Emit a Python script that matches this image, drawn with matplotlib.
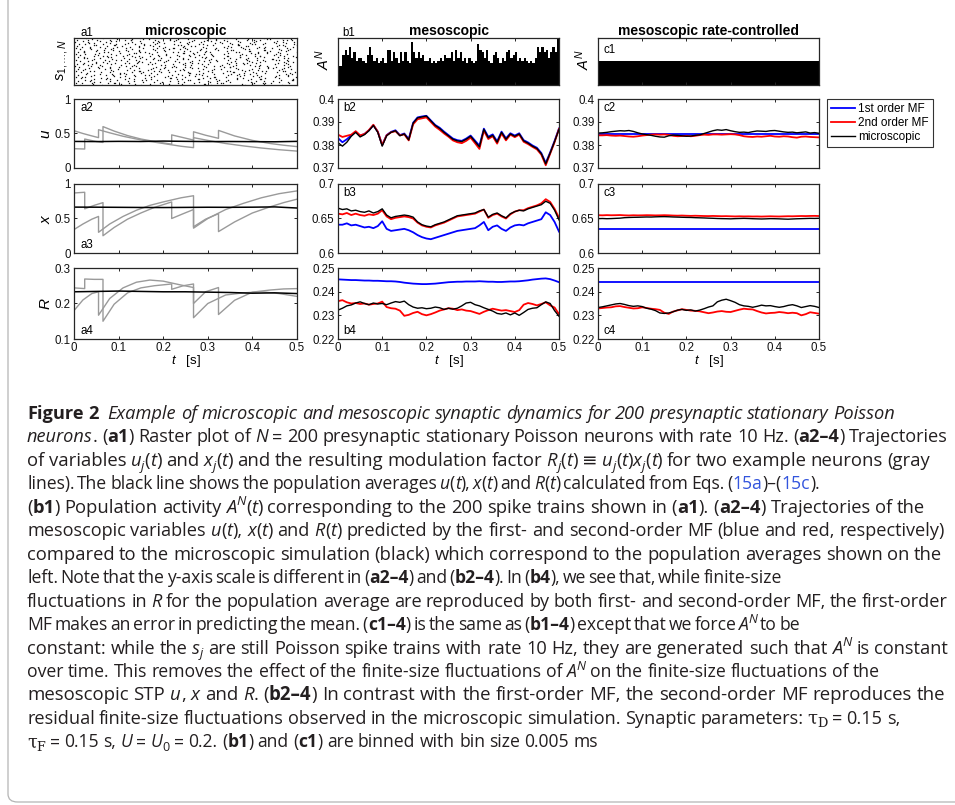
import re
import numpy as np
import matplotlib
matplotlib.use("Agg")
import matplotlib.pyplot as plt
from matplotlib.font_manager import FontProperties
from matplotlib.patches import FancyBboxPatch

plt.rcParams["mathtext.fontset"] = "custom"
plt.rcParams["mathtext.rm"] = "Liberation Sans"
plt.rcParams["mathtext.it"] = "Liberation Sans:italic"
plt.rcParams["mathtext.bf"] = "Liberation Sans:bold"
plt.rcParams["font.family"] = ["Liberation Sans", "DejaVu Sans"]

# ---------------- DATA ----------------
t_ticks = [0, 0.1, 0.2, 0.3, 0.4, 0.5]
t_ticklabels = ["0", "0.1", "0.2", "0.3", "0.4", "0.5"]

# raster: one row per 5 neurons, one column per 1/90 of the 0.5 s window.
# a digit marks a spike; it gives the tenth of the column and the neuron in the row
raster_rows = [
    "..3....7.. .1......9. ....5..0.. 8.......2. ...6...... ..4..3.... .......7.1 .9....5... ....0.....",
    "8......2.. ...6..4... ..3....... ....7...1. .9......5. ...0...8.. 2......... ..6...4..3 ......7...",
    "...1...9.. 5.....0... .......8.. ..2..6.... ....4..... 3...7....1 ..9....... .5.....0.. ..8...2...",
    ".6....4... ....3..... .7..1...9. ........5. ..0...8... ....2..6.. .4........ ...3..7... 1......9..",
    "....5..0.. ..8....2.. 6......4.. ...3...... .7....1..9 ........5. ..0..8.... 2....6.... ...4....3.",
    "..7.....1. 9...5..... ....0...8. .2......6. ...4...... 3...7..1.. .....9.... .5...0.... ..8.....2.",
    "6...4..... ...3....7. ..1....... 9.....5..0 ....8..... ..2...6... .4......3. ....7..1.. 9........5",
    "...0..8... ......2... 6...4..... ..3....7.. .1......9. ...5...0.. ......8... ..2..6.... .4....3...",
    ".7......1. ..9..5.... ....0...8. 2........6 ...4..3... .7........ ..1..9..5. ....0..... ..8...2...",
    "....6..... 4....3..7. .1....9... ...5...... ..0...8..2 6.....4... ...3..7... .1....9... .....5..0.",
    "..8..2.... ....6...4. 3......7.. .1..9..... ......5... ..0..8.... 2...6...4. ...3...... .7.....1..",
    "9.....5... .0...8.... ...2..6... ....4...3. 7.....1... ...9...... .5..0...8. ..2....6.. ....4....3",
    "...7....1. ....9..... .5....0..8 ..2....... ..6.4..... 3....7.... ...1...9.. 5.....0... ..8..2....",
    ".6..4..... ..3....7.. ....1..... 9...5...0. ...8...... ..2...6..4 ......3... .7..1..... ...9...5..",
    "......0..8 2...6..... ..4...3... .7....1... ....9..5.. 0......... ..8..2.... ....6...4. 3...7.....",
    "..1...9... ....5...0. 8......... ...2..6..4 .3....7... ...1....9. 5..0...... ..8.....2. .6....4...",
    "3....7.... .1......9. ...5.0.... ......8... 2...6..... ..4...3..7 ....1..... 9...5...0. ....8..2..",
    "...6...4.. 3...7..... ....1....9 .5...0.... ...8...2.. .6........ ..4..3..7. .....1.... 9.....5...",
    ".0......8. ...2..6... 4....3.... ..7....... 1...9..5.. ....0..... .8...2...6 ...4...... ..3..7....",
    "....1...9. .5........ ..0..8.2.. 6.....4... ..3...7... 1...9..... ...5....0. .8...2.... ....6...4.",
    "..3..7.... ....1...9. .5....0... ...8...2.. 6......4.. ..3....7.. .....1...9 5......0.. ..8...2...",
    "6......4.. ..3...7... .....1.... .9..5...0. ...8...... 2...6..4.. ..3....... ...7..1..9 .5....0...",
    "...8....2. 6....4.... ..3...7..1 ....9..... .5....0... ..8..2.... 6....4...3 ...7...... 1...9.....",
    ".5...0.... ...8...... 2...6..4.. ..3.....7. ....1...9. .5........ ...0..8... 2.....6... ..4...3..7",
    "....1..9.. .5...0...8 ...2...... 6...4..... ..3...7... ...1.9.... .5.....0.. ..8..2.... ....6...4.",
    "..3......7 ...1..9... .5....0... ...8...2.. .6....4... 3....7.... ..1...9..5 .....0.... 8..2......",
    "6...4...3. ....7..... ..1.9..... .5.....0.. ...8....2. ..6..4.... 3......7.. ...1...9.. .5....0...",
    "...8...... 2..6....4. ....3...7. 1......... .9..5...0. ....8..... ..2...6... .4..3..7.. ...1.....9",
    ".5..0...8. ..2....... .6....4... ...3..7... 1.....9..5 ...0...... .8...2.... 6...4..... ..3..7....",
    "....1..... .9...5..0. 8.....2... ..6...4... ....3..... 7..1...9.. ...5...... .0....8..2 ...6..4...",
    "..3...7..1 ....9..... ...5..0... .8......2. ..6..4.... .3....7... ....1...9. 5......0.. ..8....2..",
    "6.....4... ..3..7.... .1.....9.. ...5..0..8 2...6..... ...4...3.. .7......1. ...9..5... 0....8....",
    "...2..6... 4......3.. ..7...1... .9....5... ....0...8. ..2....... 6..4...3.. ....7..1.. .9......5.",
    ".0......8. ...2..6..4 ......3... 7...1..... .9..5..0.. ...8...... ..2...6..4 3......... ..7..1...9",
    "....5...0. .8....2... 6...4...3. ..7....... ...1.9.... 5.....0... ...8..2... .6....4... ....3...7.",
    "..1..9.... ....5..0.. .8......2. ...6..4... 3....7.... ..1...9..5 ......0... 8..2...... .6...4....",
    "3....7..1. ..9....... ...5...0.. .8..2..... ..6...4... .3......7. ...1..9... ..5....0.. 8...2...6.",
    "...4...... 3...7..1.. ..9...5... ....0...8. 2......6.. ..4..3.... .7....1..9 ...5...... ..0..8....",
    ".2...6...4 ....3..... 7..1...9.. ..5....... .0...8..2. ...6...4.. 3......... ..7..1.9.. ....5...0.",
    "....8..2.. .6.....4.. ...3..7... 1...9...5. ..0....... ....8..2.. .6...4.... 3.....7..1 ...9...5..",
]
n_neurons = 200
raster_cols = 90

# population activity, spike counts in 5 ms bins
bin_width = 0.005
counts_b1 = [7, 7, 11, 13, 11, 14, 10, 12, 9, 10,
             10, 9, 8, 11, 14, 11, 9, 10, 8, 9,
             10, 8, 13, 13, 9, 12, 10, 8, 12, 9,
             12, 9, 8, 16, 12, 10, 12, 10, 11, 9,
             9, 10, 8, 9, 8, 9, 10, 9, 11, 10,
             10, 12, 9, 13, 10, 12, 9, 10, 8, 10,
             9, 8, 9, 15, 13, 12, 10, 13, 9, 8,
             11, 12, 10, 8, 10, 9, 12, 13, 10, 11,
             12, 9, 10, 9, 10, 9, 8, 9, 8, 10,
             14, 12, 14, 12, 13, 10, 12, 14, 12, 17]
count_c1 = 10
n_bins = 100

# two example neurons (gray) and the population average (black)
a2_t1 = [0, 0.024, 0.024, 0.045, 0.065, 0.065, 0.09, 0.12, 0.15, 0.18, 0.219, 0.219,
         0.245, 0.268, 0.268, 0.295, 0.324, 0.324, 0.36, 0.40, 0.44, 0.47, 0.5]
a2_u1 = [0.28, 0.275, 0.42, 0.39, 0.37, 0.60, 0.535, 0.47, 0.42, 0.385, 0.345, 0.48,
         0.44, 0.405, 0.525, 0.475, 0.43, 0.545, 0.465, 0.40, 0.355, 0.33, 0.31]
a2_t2 = [0, 0.02, 0.04, 0.055, 0.055, 0.08, 0.11, 0.14, 0.17, 0.2, 0.24, 0.268, 0.268,
         0.30, 0.34, 0.38, 0.42, 0.46, 0.5]
a2_u2 = [0.54, 0.50, 0.465, 0.44, 0.555, 0.51, 0.46, 0.42, 0.385, 0.355, 0.315, 0.295, 0.44,
         0.40, 0.355, 0.32, 0.29, 0.265, 0.245]
a_t_avg = [0, 0.05, 0.1, 0.15, 0.2, 0.25, 0.3, 0.35, 0.4, 0.45, 0.5]
a2_u_avg = [0.385, 0.383, 0.386, 0.384, 0.390, 0.386, 0.383, 0.384, 0.382, 0.380, 0.386]

a3_t1 = a2_t1
a3_x1 = [0.87, 0.88, 0.64, 0.69, 0.73, 0.25, 0.37, 0.49, 0.58, 0.66, 0.74, 0.50,
         0.57, 0.63, 0.38, 0.49, 0.57, 0.31, 0.45, 0.58, 0.67, 0.73, 0.78]
a3_t2 = a2_t2
a3_x2 = [0.34, 0.42, 0.49, 0.53, 0.30, 0.42, 0.53, 0.62, 0.69, 0.74, 0.80, 0.83, 0.36,
         0.50, 0.63, 0.72, 0.80, 0.86, 0.90]
a3_x_avg = [0.665, 0.664, 0.662, 0.660, 0.659, 0.661, 0.663, 0.662, 0.664, 0.668, 0.652]

a4_t1 = a2_t1
a4_r1 = [0.244, 0.242, 0.269, 0.268, 0.268, 0.150, 0.198, 0.230, 0.244, 0.250, 0.255, 0.240,
         0.250, 0.255, 0.200, 0.233, 0.245, 0.169, 0.209, 0.232, 0.238, 0.241, 0.242]
a4_t2 = a2_t2
a4_r2 = [0.180, 0.210, 0.228, 0.233, 0.167, 0.214, 0.244, 0.260, 0.266, 0.263, 0.252, 0.245, 0.160,
         0.200, 0.224, 0.230, 0.233, 0.228, 0.220]
a4_r_avg = [0.233, 0.234, 0.235, 0.234, 0.233, 0.233, 0.232, 0.231, 0.229, 0.230, 0.228]

# mesoscopic traces sampled every 10 ms
t_meso = [i / 100 for i in range(51)]

b2_black = [0.3810, 0.3795, 0.3812, 0.3838, 0.3855, 0.3835, 0.3845, 0.3862, 0.3885, 0.3855,
            0.3795, 0.3840, 0.3855, 0.3862, 0.3840, 0.3848, 0.3822, 0.3895, 0.3918, 0.3922,
            0.3926, 0.3905, 0.3885, 0.3872, 0.3855, 0.3840, 0.3825, 0.3818, 0.3815, 0.3825,
            0.3838, 0.3815, 0.3792, 0.3868, 0.3832, 0.3842, 0.3812, 0.3855, 0.3825, 0.3848,
            0.3838, 0.3848, 0.3818, 0.3808, 0.3795, 0.3785, 0.3762, 0.3718, 0.3765, 0.3815,
            0.3868]
b2_red = [0.3845, 0.3835, 0.3840, 0.3845, 0.3860, 0.3842, 0.3848, 0.3865, 0.3888, 0.3858,
          0.3800, 0.3842, 0.3855, 0.3860, 0.3842, 0.3846, 0.3820, 0.3890, 0.3912, 0.3916,
          0.3920, 0.3900, 0.3880, 0.3866, 0.3850, 0.3836, 0.3820, 0.3812, 0.3808, 0.3818,
          0.3832, 0.3808, 0.3783, 0.3862, 0.3826, 0.3838, 0.3806, 0.3850, 0.3820, 0.3845,
          0.3834, 0.3845, 0.3814, 0.3804, 0.3792, 0.3781, 0.3758, 0.3712, 0.3762, 0.3812,
          0.3870]
b2_blue = [0.3830, 0.3812, 0.3825, 0.3842, 0.3858, 0.3840, 0.3848, 0.3864, 0.3886, 0.3858,
           0.3800, 0.3843, 0.3857, 0.3864, 0.3843, 0.3850, 0.3826, 0.3897, 0.3920, 0.3924,
           0.3927, 0.3907, 0.3887, 0.3875, 0.3858, 0.3843, 0.3828, 0.3821, 0.3818, 0.3828,
           0.3841, 0.3819, 0.3797, 0.3871, 0.3836, 0.3846, 0.3816, 0.3858, 0.3829, 0.3851,
           0.3841, 0.3851, 0.3821, 0.3811, 0.3798, 0.3788, 0.3765, 0.3722, 0.3768, 0.3818,
           0.3872]

b3_black = [0.665, 0.663, 0.664, 0.661, 0.662, 0.660, 0.659, 0.661, 0.658, 0.660,
            0.664, 0.655, 0.651, 0.653, 0.654, 0.655, 0.654, 0.652, 0.645, 0.641,
            0.639, 0.638, 0.641, 0.643, 0.645, 0.648, 0.651, 0.654, 0.655, 0.656,
            0.657, 0.658, 0.661, 0.663, 0.652, 0.656, 0.658, 0.654, 0.651, 0.657,
            0.660, 0.662, 0.661, 0.664, 0.666, 0.668, 0.670, 0.675, 0.672, 0.662,
            0.648]
b3_red = [0.657, 0.656, 0.658, 0.655, 0.657, 0.655, 0.654, 0.656, 0.655, 0.657,
          0.662, 0.653, 0.649, 0.651, 0.652, 0.653, 0.652, 0.650, 0.644, 0.640,
          0.638, 0.637, 0.640, 0.642, 0.644, 0.647, 0.650, 0.653, 0.654, 0.655,
          0.656, 0.657, 0.660, 0.663, 0.651, 0.655, 0.657, 0.653, 0.650, 0.656,
          0.660, 0.662, 0.662, 0.665, 0.667, 0.669, 0.672, 0.678, 0.674, 0.664,
          0.651]
b3_blue = [0.641, 0.641, 0.643, 0.640, 0.641, 0.639, 0.637, 0.638, 0.636, 0.639,
           0.646, 0.635, 0.632, 0.633, 0.634, 0.635, 0.633, 0.630, 0.626, 0.623,
           0.621, 0.620, 0.622, 0.624, 0.626, 0.628, 0.630, 0.632, 0.633, 0.634,
           0.635, 0.636, 0.640, 0.645, 0.633, 0.638, 0.640, 0.635, 0.632, 0.637,
           0.640, 0.641, 0.640, 0.643, 0.645, 0.647, 0.649, 0.659, 0.655, 0.645,
           0.631]

b4_black = [0.2322, 0.2330, 0.2340, 0.2344, 0.2352, 0.2357, 0.2350, 0.2345, 0.2352, 0.2348,
            0.2350, 0.2345, 0.2352, 0.2358, 0.2355, 0.2360, 0.2345, 0.2335, 0.2330, 0.2332,
            0.2328, 0.2330, 0.2335, 0.2332, 0.2325, 0.2330, 0.2326, 0.2330, 0.2340, 0.2352,
            0.2355, 0.2345, 0.2340, 0.2332, 0.2325, 0.2318, 0.2308, 0.2305, 0.2310, 0.2302,
            0.2310, 0.2300, 0.2312, 0.2325, 0.2330, 0.2332, 0.2345, 0.2357, 0.2350, 0.2320,
            0.2296]
b4_red = [0.2360, 0.2364, 0.2355, 0.2350, 0.2352, 0.2348, 0.2350, 0.2345, 0.2348, 0.2350,
          0.2358, 0.2335, 0.2330, 0.2328, 0.2320, 0.2298, 0.2302, 0.2310, 0.2315, 0.2305,
          0.2300, 0.2305, 0.2312, 0.2320, 0.2325, 0.2330, 0.2328, 0.2322, 0.2325, 0.2320,
          0.2318, 0.2312, 0.2306, 0.2315, 0.2322, 0.2328, 0.2324, 0.2320, 0.2322, 0.2318,
          0.2314, 0.2322, 0.2345, 0.2352, 0.2348, 0.2342, 0.2348, 0.2355, 0.2342, 0.2333,
          0.2305]
b4_blue = [0.2452, 0.2451, 0.2450, 0.2449, 0.2449, 0.2448, 0.2447, 0.2447, 0.2446, 0.2446,
           0.2445, 0.2444, 0.2444, 0.2443, 0.2441, 0.2438, 0.2436, 0.2434, 0.2433, 0.2432,
           0.2432, 0.2433, 0.2434, 0.2436, 0.2438, 0.2440, 0.2441, 0.2442, 0.2442, 0.2443,
           0.2443, 0.2443, 0.2444, 0.2443, 0.2442, 0.2442, 0.2441, 0.2441, 0.2442, 0.2443,
           0.2443, 0.2444, 0.2446, 0.2448, 0.2451, 0.2453, 0.2455, 0.2456, 0.2453, 0.2447,
           0.2440]

c2_black = [0.3852, 0.3853, 0.3855, 0.3858, 0.3860, 0.3862, 0.3861, 0.3863, 0.3859, 0.3853,
            0.3848, 0.3845, 0.3842, 0.3838, 0.3835, 0.3834, 0.3840, 0.3843, 0.3842, 0.3840,
            0.3838, 0.3839, 0.3842, 0.3844, 0.3850, 0.3856, 0.3862, 0.3866, 0.3864, 0.3867,
            0.3862, 0.3858, 0.3855, 0.3856, 0.3854, 0.3858, 0.3861, 0.3860, 0.3859, 0.3862,
            0.3863, 0.3860, 0.3857, 0.3855, 0.3856, 0.3853, 0.3855, 0.3857, 0.3852, 0.3854,
            0.3851]
c2_red = [0.3842, 0.3842, 0.3843, 0.3841, 0.3840, 0.3841, 0.3839, 0.3837, 0.3836, 0.3838,
          0.3841, 0.3843, 0.3845, 0.3846, 0.3845, 0.3846, 0.3844, 0.3840, 0.3838, 0.3839,
          0.3840, 0.3838, 0.3840, 0.3843, 0.3845, 0.3844, 0.3846, 0.3846, 0.3845, 0.3846,
          0.3847, 0.3846, 0.3843, 0.3838, 0.3836, 0.3835, 0.3837, 0.3836, 0.3838, 0.3840,
          0.3837, 0.3836, 0.3838, 0.3837, 0.3834, 0.3832, 0.3836, 0.3837, 0.3835, 0.3834,
          0.3833]
c2_blue = 0.3848

c3_black = [0.6498, 0.6500, 0.6497, 0.6499, 0.6502, 0.6505, 0.6512, 0.6515, 0.6517, 0.6518,
            0.6520, 0.6522, 0.6521, 0.6524, 0.6526, 0.6527, 0.6525, 0.6522, 0.6520, 0.6518,
            0.6516, 0.6515, 0.6512, 0.6510, 0.6508, 0.6505, 0.6503, 0.6500, 0.6498, 0.6497,
            0.6495, 0.6498, 0.6500, 0.6502, 0.6500, 0.6497, 0.6495, 0.6493, 0.6495, 0.6498,
            0.6497, 0.6495, 0.6492, 0.6490, 0.6493, 0.6496, 0.6498, 0.6500, 0.6502, 0.6501,
            0.6503]
c3_red = [0.6548, 0.6546, 0.6549, 0.6547, 0.6548, 0.6550, 0.6546, 0.6544, 0.6547, 0.6545,
          0.6546, 0.6548, 0.6547, 0.6545, 0.6546, 0.6548, 0.6546, 0.6543, 0.6541, 0.6543,
          0.6540, 0.6538, 0.6540, 0.6538, 0.6536, 0.6535, 0.6537, 0.6535, 0.6533, 0.6534,
          0.6532, 0.6530, 0.6532, 0.6530, 0.6531, 0.6529, 0.6530, 0.6528, 0.6530, 0.6532,
          0.6530, 0.6529, 0.6531, 0.6533, 0.6532, 0.6534, 0.6536, 0.6535, 0.6537, 0.6538,
          0.6536]
c3_blue = 0.6353

c4_black = [0.2333, 0.2336, 0.2340, 0.2344, 0.2348, 0.2350, 0.2346, 0.2341, 0.2338, 0.2340,
            0.2337, 0.2330, 0.2326, 0.2320, 0.2310, 0.2308, 0.2310, 0.2315, 0.2322, 0.2325,
            0.2321, 0.2323, 0.2318, 0.2322, 0.2328, 0.2335, 0.2340, 0.2357, 0.2364, 0.2368,
            0.2362, 0.2355, 0.2345, 0.2340, 0.2338, 0.2334, 0.2338, 0.2343, 0.2340, 0.2341,
            0.2337, 0.2334, 0.2337, 0.2342, 0.2345, 0.2340, 0.2333, 0.2337, 0.2341, 0.2338,
            0.2333]
c4_red = [0.2329, 0.2331, 0.2333, 0.2334, 0.2338, 0.2339, 0.2335, 0.2332, 0.2329, 0.2330,
          0.2334, 0.2331, 0.2328, 0.2326, 0.2323, 0.2311, 0.2306, 0.2316, 0.2321, 0.2326,
          0.2323, 0.2320, 0.2319, 0.2317, 0.2313, 0.2309, 0.2312, 0.2316, 0.2318, 0.2315,
          0.2314, 0.2319, 0.2324, 0.2328, 0.2326, 0.2325, 0.2318, 0.2312, 0.2308, 0.2310,
          0.2311, 0.2314, 0.2312, 0.2309, 0.2311, 0.2309, 0.2300, 0.2305, 0.2313, 0.2310,
          0.2307]
c4_blue = 0.2441

legend_labels = ["1st order MF", "2nd order MF", "microscopic"]

caption_lines = [
    [("Figure 2", "b"), ("  ", "r"),
     ("Example of microscopic and mesoscopic synaptic dynamics for 200 presynaptic stationary Poisson", "i")],
    [("neurons", "i"), (". (", "r"), ("a1", "b"), (") Raster plot of ", "r"), ("N", "i"),
     (" = 200 presynaptic stationary Poisson neurons with rate 10 Hz. (", "r"), ("a2–4", "b"),
     (") Trajectories", "r")],
    [("of variables ", "r"), ("u", "i"), ("j", "isub"), ("(", "r"), ("t", "i"), (") and ", "r"),
     ("x", "i"), ("j", "isub"), ("(", "r"), ("t", "i"), (") and the resulting modulation factor ", "r"),
     ("R", "i"), ("j", "isub"), ("(", "r"), ("t", "i"), (") ≡ ", "r"), ("u", "i"), ("j", "isub"),
     ("(", "r"), ("t", "i"), (")", "r"), ("x", "i"), ("j", "isub"), ("(", "r"), ("t", "i"),
     (") for two example neurons (gray", "r")],
    [("lines). The black line shows the population averages ", "r"), ("u", "i"), ("(", "r"),
     ("t", "i"), ("), ", "r"), ("x", "i"), ("(", "r"), ("t", "i"), (") and ", "r"), ("R", "i"),
     ("(", "r"), ("t", "i"), (") calculated from Eqs. (", "r"), ("15a", "link"), (")–(", "r"),
     ("15c", "link"), (").", "r")],
    [("(", "r"), ("b1", "b"), (") Population activity ", "r"), ("A", "i"), ("N", "isup"), ("(", "r"),
     ("t", "i"), (") corresponding to the 200 spike trains shown in (", "r"), ("a1", "b"),
     ("). (", "r"), ("a2–4", "b"), (") Trajectories of the", "r")],
    [("mesoscopic variables ", "r"), ("u", "i"), ("(", "r"), ("t", "i"), ("), ", "r"), ("x", "i"),
     ("(", "r"), ("t", "i"), (") and ", "r"), ("R", "i"), ("(", "r"), ("t", "i"),
     (") predicted by the first- and second-order MF (blue and red, respectively)", "r")],
    [("compared to the microscopic simulation (black) which correspond to the population averages shown on the", "r")],
    [("left. Note that the y-axis scale is different in (", "r"), ("a2–4", "b"), (") and (", "r"),
     ("b2–4", "b"), ("). In (", "r"), ("b4", "b"), ("), we see that, while finite-size", "r")],
    [("fluctuations in ", "r"), ("R", "i"),
     (" for the population average are reproduced by both first- and second-order MF, the first-order", "r")],
    [("MF makes an error in predicting the mean. (", "r"), ("c1–4", "b"), (") is the same as (", "r"),
     ("b1–4", "b"), (") except that we force ", "r"), ("A", "i"), ("N", "isup"), (" to be", "r")],
    [("constant: while the ", "r"), ("s", "i"), ("j", "isub"),
     (" are still Poisson spike trains with rate 10 Hz, they are generated such that ", "r"),
     ("A", "i"), ("N", "isup"), (" is constant", "r")],
    [("over time. This removes the effect of the finite-size fluctuations of ", "r"), ("A", "i"),
     ("N", "isup"), (" on the finite-size fluctuations of the", "r")],
    [("mesoscopic STP ", "r"), ("u", "i"), (", ", "r"), ("x", "i"), (" and ", "r"), ("R", "i"),
     (". (", "r"), ("b2–4", "b"),
     (") In contrast with the first-order MF, the second-order MF reproduces the", "r")],
    [("residual finite-size fluctuations observed in the microscopic simulation. Synaptic parameters: ", "r"),
     ("τ", "tau"), ("D", "tausub"), (" = 0.15 s,", "r")],
    [("τ", "tau"), ("F", "tausub"), (" = 0.15 s, ", "r"), ("U", "i"), (" = ", "r"), ("U", "i"),
     ("0", "sub"), (" = 0.2. (", "r"), ("b1", "b"), (") and (", "r"), ("c1", "b"),
     (") are binned with bin size 0.005 ms", "r")],
]
# right end of each caption line on the page, in pixels
caption_right = [895, 948, 930, 820, 925, 945, 942, 782, 948, 800, 948, 880, 945, 900, 598]

# ---------------- FIGURE ----------------
W, H = 955, 805
fig = plt.figure(figsize=(W / 100, H / 100), dpi=100)
fig.patch.set_facecolor("white")

FRAME = "#262626"
GRAY = "#9a9a9a"


def px_axes(x0, y0, x1, y1):
    return fig.add_axes([x0 / W, 1 - y1 / H, (x1 - x0) / W, (y1 - y0) / H])


def fig_text(x, y, s, **kw):
    return fig.text(x / W, 1 - y / H, s, **kw)


def matlab_box(ax, xlabels=False, ylim=None, yticks=None, yticklabels=None):
    for sp in ax.spines.values():
        sp.set_linewidth(0.9)
        sp.set_color(FRAME)
    ax.tick_params(direction="in", top=True, right=True, length=2.4, width=0.7,
                   color=FRAME, labelsize=8.3, pad=2.5, labelcolor="#111111")
    ax.set_xlim(0, 0.5)
    ax.set_xticks(t_ticks)
    ax.set_xticklabels(t_ticklabels if xlabels else [])
    if ylim is not None:
        ax.set_ylim(*ylim)
    if yticks is not None:
        ax.set_yticks(yticks)
        ax.set_yticklabels(yticklabels)
    else:
        ax.set_yticks([])


cols_x = [(74, 297), (338, 559), (598, 819)]
rows_y = [(38, 85), (99, 168), (184, 253), (268, 339)]

# page frame with rounded corner
frame = FancyBboxPatch((8 / W, 3 / H), 1.2, 1.2, transform=fig.transFigure,
                       boxstyle="round,pad=0,rounding_size=0.01", fill=False,
                       edgecolor="#b4b4b4", lw=0.9)
fig.patches.append(frame)

# ---- row 1: spikes and population activity ----
ax = px_axes(cols_x[0][0], rows_y[0][0], cols_x[0][1], rows_y[0][1])
spk_t, spk_n = [], []
n_rows = len(raster_rows)
for r, row in enumerate(raster_rows):
    row = row.replace(" ", "")
    for c, ch in enumerate(row):
        if ch.isdigit():
            d = int(ch)
            spk_t.append((c + 0.05 + d / 10) * 0.5 / raster_cols)
            spk_n.append(r * n_neurons / n_rows + (d // 2 + 0.5))
ax.plot(spk_t, spk_n, ls="none", marker="s", ms=0.9, mew=0, color="#111111")
matlab_box(ax)
ax.set_ylim(0, n_neurons)

bin_edges = np.arange(n_bins + 1) * bin_width
ax = px_axes(cols_x[1][0], rows_y[0][0], cols_x[1][1], rows_y[0][1])
ax.stairs(counts_b1, bin_edges, fill=True, color="black")
matlab_box(ax, ylim=(0, 17.3))

ax = px_axes(cols_x[2][0], rows_y[0][0], cols_x[2][1], rows_y[0][1])
ax.stairs([count_c1] * n_bins, bin_edges, fill=True, color="black")
matlab_box(ax, ylim=(0, 19.5))

# ---- rows 2-4, column a: single neurons and population average ----
a_specs = [
    (rows_y[1], (a2_t1, a2_u1), (a2_t2, a2_u2), a2_u_avg, (0, 1), [0, 0.5, 1], ["0", "0.5", "1"], "$u$"),
    (rows_y[2], (a3_t1, a3_x1), (a3_t2, a3_x2), a3_x_avg, (0, 1), [0, 0.5, 1], ["0", "0.5", "1"], "$x$"),
    (rows_y[3], (a4_t1, a4_r1), (a4_t2, a4_r2), a4_r_avg, (0.1, 0.3), [0.1, 0.2, 0.3],
     ["0.1", "0.2", "0.3"], "$R$"),
]
for k, (ry, g1, g2, avg, ylim, yt, ytl, ylab) in enumerate(a_specs):
    ax = px_axes(cols_x[0][0], ry[0], cols_x[0][1], ry[1])
    ax.plot(*g1, color=GRAY, lw=1.0)
    ax.plot(*g2, color=GRAY, lw=1.0)
    ax.plot(a_t_avg, avg, color="black", lw=1.1)
    matlab_box(ax, xlabels=(k == 2), ylim=ylim, yticks=yt, yticklabels=ytl)
    ax.set_ylabel(ylab, fontsize=11, labelpad=1.0)

# ---- rows 2-4, columns b and c: mean-field vs microscopic ----
b_specs = [
    (rows_y[1], b2_blue, b2_red, b2_black, (0.37, 0.4), [0.37, 0.38, 0.39, 0.4], ["0.37", "0.38", "0.39", "0.4"]),
    (rows_y[2], b3_blue, b3_red, b3_black, (0.6, 0.7), [0.6, 0.65, 0.7], ["0.6", "0.65", "0.7"]),
    (rows_y[3], b4_blue, b4_red, b4_black, (0.22, 0.25), [0.22, 0.23, 0.24, 0.25], ["0.22", "0.23", "0.24", "0.25"]),
]
c_specs = [(c2_blue, c2_red, c2_black), (c3_blue, c3_red, c3_black), (c4_blue, c4_red, c4_black)]

for k, (ry, blue, red, black, ylim, yt, ytl) in enumerate(b_specs):
    ax = px_axes(cols_x[1][0], ry[0], cols_x[1][1], ry[1])
    ax.plot(t_meso, blue, color="blue", lw=1.3)
    ax.plot(t_meso, red, color="red", lw=1.3)
    ax.plot(t_meso, black, color="black", lw=1.0)
    matlab_box(ax, xlabels=(k == 2), ylim=ylim, yticks=yt, yticklabels=ytl)

    cb, cr, ck = c_specs[k]
    ax = px_axes(cols_x[2][0], ry[0], cols_x[2][1], ry[1])
    hb, = ax.plot([0, 0.5], [cb, cb], color="blue", lw=1.3)
    hr, = ax.plot(t_meso, cr, color="red", lw=1.3)
    hk, = ax.plot(t_meso, ck, color="black", lw=1.0)
    matlab_box(ax, xlabels=(k == 2), ylim=ylim, yticks=yt, yticklabels=ytl)
    if k == 0:
        leg = ax.legend([hb, hr, hk], legend_labels, loc="upper left",
                        bbox_to_anchor=((827 - 598) / 221, 1.0), fontsize=8.5,
                        frameon=True, fancybox=False, borderaxespad=0,
                        handlelength=2.0, handletextpad=0.3, labelspacing=0.15,
                        borderpad=0.35)
        leg.get_frame().set_edgecolor("black")
        leg.get_frame().set_linewidth(0.8)

# ---- titles, panel tags and axis labels ----
for cx, title in zip(cols_x, ["microscopic", "mesoscopic", "mesoscopic rate-controlled"]):
    fig_text((cx[0] + cx[1]) / 2, 31, title, ha="center", va="center",
             fontsize=10, fontweight="bold")

tags = [("a1", 80, 33), ("b1", 342, 33), ("c1", 603, 50),
        ("a2", 80, 108), ("b2", 343, 108), ("c2", 603, 108),
        ("a3", 80, 245), ("b3", 343, 193), ("c3", 603, 193),
        ("a4", 80, 331), ("b4", 343, 331), ("c4", 603, 331)]
for s, x, y in tags:
    fig_text(x, y, s, ha="left", va="center", fontsize=8.3)

fig_text(62, 60, r"$s_{1,\ldots,N}$", rotation=90, ha="center", va="center", fontsize=10.5)
fig_text(323, 60, r"$A^N$", rotation=90, ha="center", va="center", fontsize=10.5)
fig_text(583, 60, r"$A^N$", rotation=90, ha="center", va="center", fontsize=10.5)
for cx in cols_x:
    fig_text((cx[0] + cx[1]) / 2, 361, r"$t$   [s]", ha="center", va="center", fontsize=9.5)

# ---------------- CAPTION ----------------
renderer = fig.canvas.get_renderer()
base_fam = ["Open Sans", "DejaVu Sans"]


def run_font(style, size):
    if style in ("tau", "tausub"):
        return FontProperties(family=["DejaVu Serif"], size=size * (0.72 if style == "tausub" else 1.0))
    small = style in ("sub", "isub", "isup")
    return FontProperties(family=base_fam, size=size * (0.72 if small else 1.0),
                          style="italic" if style in ("i", "isub", "isup") else "normal",
                          weight="bold" if style == "b" else "normal")


def run_width(s, prop):
    if not s:
        return 0.0
    w_full = renderer.get_text_width_height_descent("|" + s + "|", prop, ismath=False)[0]
    w_bars = renderer.get_text_width_height_descent("||", prop, ismath=False)[0]
    return w_full - w_bars


def layout_line(runs, size):
    """Words of one line with their natural offsets and the spaces before them."""
    words, x_run, n_sp = [], 0.0, 0
    for s, style in runs:
        prop = run_font(style, size)
        pos = 0
        for tok in re.split("( )", s):
            if tok == " ":
                n_sp += 1
            elif tok:
                words.append((tok, style, prop, x_run + run_width(s[:pos], prop), n_sp))
            pos += len(tok)
        x_run += run_width(s, prop)
    return words, x_run, n_sp


probe = 13.0
_, probe_w, _ = layout_line(caption_lines[1], probe)
cap_size = probe * (caption_right[1] - 27) / probe_w

for i, runs in enumerate(caption_lines):
    target = caption_right[i] - 27
    _, w0, _ = layout_line(runs, cap_size)
    f = max(0.97, min(1.03, target / w0))
    size = cap_size * f
    size_px = size * 100 / 72
    words, w1, n_sp = layout_line(runs, size)
    adj = max(-2.5, min(2.5, (target - w1) / max(n_sp, 1)))
    y0 = 419 + 23.45 * i
    for tok, style, prop, off, sp_before in words:
        dy = 0
        if style in ("sub", "isub", "tausub"):
            dy = 0.2 * size_px
        elif style == "isup":
            dy = -0.4 * size_px
        color = "#3355dd" if style == "link" else "#231f20"
        fig_text(27 + off + adj * sp_before, y0 + dy, tok, fontproperties=prop,
                 color=color, ha="left", va="baseline")

fig.savefig("out.png", dpi=100, facecolor="white")
